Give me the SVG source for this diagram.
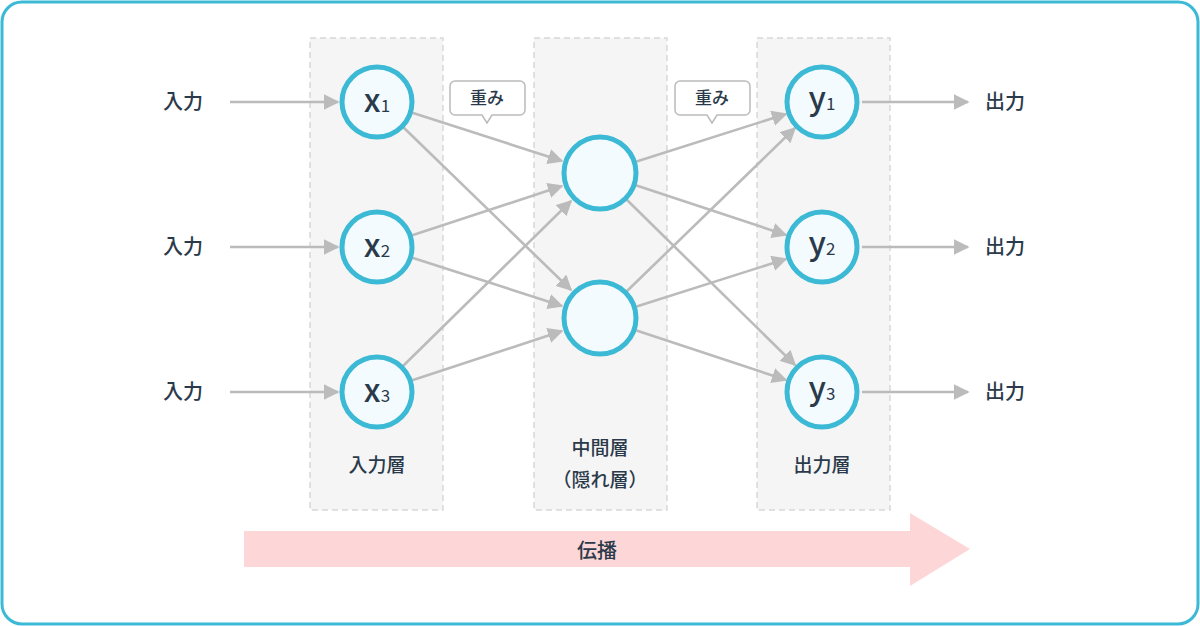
<svg xmlns="http://www.w3.org/2000/svg" width="1200" height="626" viewBox="0 0 1200 626">
<defs>
<marker id="ah" viewBox="0 0 10 10" refX="9" refY="5" markerWidth="6" markerHeight="6" orient="auto" markerUnits="strokeWidth"><path d="M0,0 L10,5 L0,10 z" fill="#bbbbbb"/></marker>
<style>
text{font-family:"Noto Sans CJK JP","Noto Sans",sans-serif;fill:#2b3a4a;font-weight:500}
.t{font-size:20px}
.layer{fill:#f5f5f5;stroke:#d8d8d8;stroke-width:1.5;stroke-dasharray:6 4}
.n{fill:#f3fbfe;stroke:#3cb9d5;stroke-width:5}
.c line{stroke:#bbbbbb;stroke-width:2.6;marker-end:url(#ah)}
.v{font-family:"Noto Sans CJK JP",sans-serif;font-size:32px}
.s{font-family:"Noto Sans CJK JP",sans-serif;font-size:17px;font-weight:400}
</style>
</defs>
<rect x="2" y="2" width="1196" height="622" rx="20" fill="#fff" stroke="#3cb9d5" stroke-width="3"/>
<g id="layers">
<rect class="layer" x="310" y="38" width="133" height="472"/>
<rect class="layer" x="534" y="38" width="133" height="472"/>
<rect class="layer" x="757" y="38" width="133" height="472"/>
</g>
<g id="propagation">
<path d="M244,531 H910 V513 L970,549 L910,586 V567 H244 z" fill="#fdd7d7"/>
<text class="t" x="597" y="558" text-anchor="middle">伝播</text>
</g>
<g class="c" id="connectors">
<line x1="230" y1="102" x2="338" y2="102"/>
<line x1="230" y1="247" x2="338" y2="247"/>
<line x1="230" y1="392" x2="338" y2="392"/>
<line x1="862" y1="102" x2="968" y2="102"/>
<line x1="862" y1="247" x2="968" y2="247"/>
<line x1="862" y1="392" x2="968" y2="392"/>
<line x1="410" y1="112" x2="562" y2="161"/>
<line x1="402" y1="126" x2="571" y2="290"/>
<line x1="410" y1="236" x2="562" y2="186"/>
<line x1="410" y1="257" x2="562" y2="306"/>
<line x1="402" y1="367" x2="571" y2="201"/>
<line x1="410" y1="381" x2="562" y2="331"/>
<line x1="635" y1="162" x2="786" y2="114"/>
<line x1="635" y1="185" x2="786" y2="235"/>
<line x1="626" y1="199" x2="795" y2="365"/>
<line x1="626" y1="292" x2="795" y2="128"/>
<line x1="635" y1="307" x2="786" y2="259"/>
<line x1="635" y1="330" x2="786" y2="380"/>
</g>
<g id="in-labels">
<text class="t" x="183" y="109" text-anchor="middle">入力</text>
<text class="t" x="183" y="254" text-anchor="middle">入力</text>
<text class="t" x="183" y="399" text-anchor="middle">入力</text>
</g>
<g id="out-labels">
<text class="t" x="1005" y="109" text-anchor="middle">出力</text>
<text class="t" x="1005" y="254" text-anchor="middle">出力</text>
<text class="t" x="1005" y="399" text-anchor="middle">出力</text>
</g>
<g id="x1"><circle class="n" cx="377" cy="102" r="35"/><text x="377" y="112" text-anchor="middle"><tspan class="v">x</tspan><tspan class="s">1</tspan></text></g>
<g id="x2"><circle class="n" cx="377" cy="247" r="35"/><text x="377" y="257" text-anchor="middle"><tspan class="v">x</tspan><tspan class="s">2</tspan></text></g>
<g id="x3"><circle class="n" cx="377" cy="392" r="35"/><text x="377" y="402" text-anchor="middle"><tspan class="v">x</tspan><tspan class="s">3</tspan></text></g>
<g id="h1"><circle class="n" cx="600" cy="173" r="36"/></g>
<g id="h2"><circle class="n" cx="600" cy="318" r="36"/></g>
<g id="y1"><circle class="n" cx="822" cy="102" r="35"/><text x="822" y="110" text-anchor="middle"><tspan class="v">y</tspan><tspan class="s">1</tspan></text></g>
<g id="y2"><circle class="n" cx="822" cy="247" r="35"/><text x="822" y="255" text-anchor="middle"><tspan class="v">y</tspan><tspan class="s">2</tspan></text></g>
<g id="y3"><circle class="n" cx="822" cy="392" r="35"/><text x="822" y="400" text-anchor="middle"><tspan class="v">y</tspan><tspan class="s">3</tspan></text></g>
<g id="layer-labels">
<text x="377" y="472" text-anchor="middle" style="font-size:19px">入力層</text>
<text x="600" y="455" text-anchor="middle" style="font-size:19px">中間層</text>
<text x="600" y="487" text-anchor="middle" style="font-size:19px">（隠れ層）</text>
<text x="822" y="472" text-anchor="middle" style="font-size:19px">出力層</text>
</g>
<g id="w1"><path d="M455,81 H520 a5,5 0 0 1 5,5 V110 a5,5 0 0 1 -5,5 H492 L487,123 L482,115 H455 a5,5 0 0 1 -5,-5 V86 a5,5 0 0 1 5,-5 z" fill="#fff" stroke="#bbbbbb" stroke-width="1.5"/><text x="487" y="104" text-anchor="middle" style="font-size:17px">重み</text></g>
<g id="w2"><path d="M680,81 H745 a5,5 0 0 1 5,5 V110 a5,5 0 0 1 -5,5 H717 L712,123 L707,115 H680 a5,5 0 0 1 -5,-5 V86 a5,5 0 0 1 5,-5 z" fill="#fff" stroke="#bbbbbb" stroke-width="1.5"/><text x="712" y="104" text-anchor="middle" style="font-size:17px">重み</text></g>
</svg>
